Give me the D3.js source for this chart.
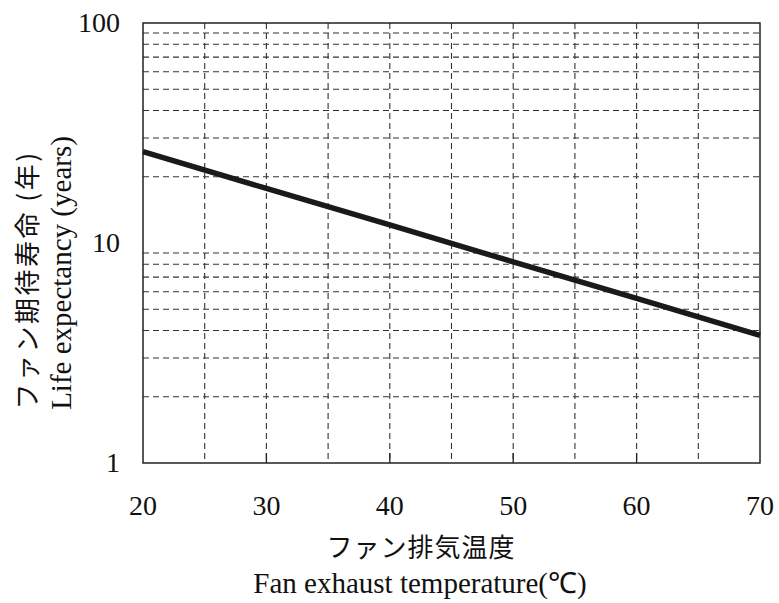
<!DOCTYPE html>
<html>
<head>
<meta charset="utf-8">
<script src="https://cdn.jsdelivr.net/npm/d3@7"></script>
<style>
  body { margin: 0; background: #fff; }
  svg { display: block; }
  .num { font-family: "Liberation Serif", "DejaVu Serif", serif; font-size: 28px; fill: #111; }
  .jp { font-family: "Noto Sans CJK JP", sans-serif; font-size: 26px; fill: #111; }
  .en { font-family: "Liberation Serif", serif; font-size: 29px; fill: #111; }
</style>
</head>
<body>
<svg id="chart" width="779" height="603"></svg>
<script>
// values
let temps = [20, 30, 40, 50, 60, 70];
let life = [26, 17.7, 12.1, 8.2, 5.6, 3.8];
let xTicks = [20, 30, 40, 50, 60, 70];
let xGrid = [25, 30, 35, 40, 45, 50, 55, 60, 65];
let yTicks = [1, 10, 100];
let yGrid = [2, 3, 4, 5, 6, 7, 8, 9, 20, 30, 40, 50, 60, 70, 80, 90];

// plot box
let plotL = 143, plotR = 760, plotT = 23, plotB = 463;

let svg = d3.select("#chart");

let x = d3.scaleLinear().domain([20, 70]).range([plotL, plotR]);
let y = d3.scaleLog().domain([1, 100]).range([plotB, plotT]);

// grid lines
let grid = svg.append("g")
    .attr("stroke", "#333")
    .attr("stroke-width", 1.1)
    .attr("stroke-dasharray", "6,4");

grid.selectAll(".vg").data(xGrid).enter().append("line")
    .attr("x1", d => x(d)).attr("x2", d => x(d))
    .attr("y1", plotT).attr("y2", plotB);

grid.selectAll(".hg").data(yGrid).enter().append("line")
    .attr("x1", plotL).attr("x2", plotR)
    .attr("y1", d => y(d)).attr("y2", d => y(d));

// inner tick marks at the major x values
svg.append("g").selectAll("line").data(xTicks.slice(1, -1)).enter().append("line")
    .attr("x1", d => x(d)).attr("x2", d => x(d))
    .attr("y1", plotB).attr("y2", plotB - 10)
    .attr("stroke", "#222").attr("stroke-width", 1.3);

// frame
svg.append("rect")
    .attr("x", plotL).attr("y", plotT)
    .attr("width", plotR - plotL).attr("height", plotB - plotT)
    .attr("fill", "none").attr("stroke", "#222").attr("stroke-width", 1.5);

// the curve
let line = d3.line().x((d, i) => x(temps[i])).y(d => y(d));
svg.append("path")
    .datum(life)
    .attr("d", line)
    .attr("fill", "none")
    .attr("stroke", "#1a1a1a")
    .attr("stroke-width", 5.5);

// tick labels
svg.append("g").selectAll("text").data(xTicks).enter().append("text")
    .attr("class", "num")
    .attr("x", d => x(d)).attr("y", 515)
    .attr("text-anchor", "middle")
    .text(d => d);

svg.append("g").selectAll("text").data(yTicks).enter().append("text")
    .attr("class", "num")
    .attr("x", 120).attr("y", d => y(d) + 9)
    .attr("text-anchor", "end")
    .text(d => d);

// axis titles
svg.append("text").attr("class", "jp")
    .attr("x", 421).attr("y", 557)
    .attr("text-anchor", "middle")
    .attr("letter-spacing", "1px")
    .text("ファン排気温度");

svg.append("text").attr("class", "en")
    .attr("x", 420).attr("y", 593)
    .attr("text-anchor", "middle")
    .text("Fan exhaust temperature(℃)");

svg.append("text").attr("class", "jp")
    .attr("transform", "translate(37,280) rotate(-90)")
    .attr("text-anchor", "middle")
    .attr("letter-spacing", "2.5px")
    .text("ファン期待寿命 (年)");

svg.append("text").attr("class", "en")
    .attr("transform", "translate(71,273) rotate(-90)")
    .attr("text-anchor", "middle")
    .text("Life expectancy (years)");
</script>
</body>
</html>
